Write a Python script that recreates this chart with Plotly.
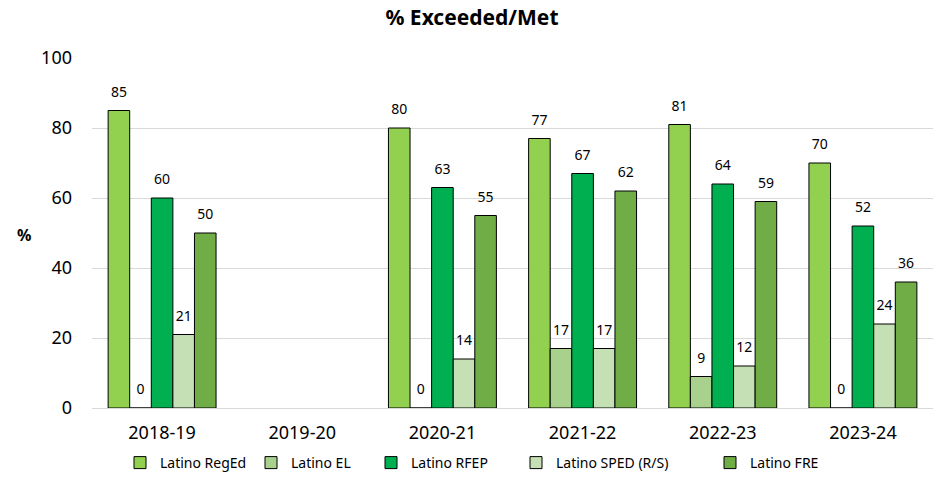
import plotly.graph_objects as go

years = ["2018-19", "2019-20", "2020-21", "2021-22", "2022-23", "2023-24"]
series_names = ["Latino RegEd", "Latino EL", "Latino RFEP", "Latino SPED (R/S)", "Latino FRE"]
reged = [85, None, 80, 77, 81, 70]
el = [0, None, 0, 17, 9, 0]
rfep = [60, None, 63, 67, 64, 52]
sped = [21, None, 14, 17, 12, 24]
fre = [50, None, 55, 62, 59, 36]
colors = ["#92D050", "#A9D18E", "#00B050", "#C5E0B4", "#70AD47"]
legend_widths = [86, 75, 100, 149, 80]

font_family = "Noto Sans, Open Sans, Liberation Sans, sans-serif"
all_series = [reged, el, rfep, sped, fre]

fig = go.Figure()
for i, (name, vals, col) in enumerate(zip(series_names, all_series, colors)):
    fig.add_trace(go.Bar(
        name=name, x=years, y=vals,
        marker=dict(color=col, line=dict(color="#000000", width=1)),
        offsetgroup=str(i), legendwidth=legend_widths[i],
    ))
# data labels, placed with the same grouping as the bars
for i, (name, vals) in enumerate(zip(series_names, all_series)):
    fig.add_trace(go.Scatter(
        x=years, y=vals, mode="markers+text", offsetgroup=str(i),
        text=[("" if v is None else str(v)) for v in vals],
        textposition="top center",
        textfont=dict(size=14, color="#000000", family=font_family),
        marker=dict(size=15, color="rgba(0,0,0,0)"),
        showlegend=False, hoverinfo="skip", cliponaxis=False,
    ))

fig.update_layout(
    width=940, height=491,
    barmode="group", bargap=0.23, bargroupgap=0,
    scattermode="group", scattergap=0.23,
    plot_bgcolor="white", paper_bgcolor="white",
    margin=dict(l=92, r=7, t=58, b=83, autoexpand=False),
    font=dict(family=font_family, color="#000000"),
    title=dict(text="<b>% Exceeded/Met</b>", x=472 / 940, xref="container", xanchor="center",
               y=1 - 18 / 491, yref="container", yanchor="middle",
               font=dict(size=21, color="#000000")),
    xaxis=dict(showline=False, ticks="", tickfont=dict(size=18), automargin=False,
               ticklabelstandoff=12),
    yaxis=dict(range=[0, 100], dtick=20, showgrid=True, gridcolor="#D9D9D9",
               gridwidth=1, zeroline=True, zerolinecolor="#D9D9D9", zerolinewidth=1,
               showline=False, ticks="", tickfont=dict(size=18), ticklabelstandoff=19,
               automargin=False),
    legend=dict(orientation="h", x=(120 - 92) / 841, xanchor="left",
                y=(408 - 463) / 350, yanchor="middle",
                font=dict(size=14), traceorder="normal"),
)
fig.add_annotation(text="<b>%</b>", x=(24 - 92) / 841, xref="paper", xanchor="center",
                   y=(408 - 235) / 350, yref="paper", yanchor="middle",
                   showarrow=False, font=dict(size=16))

fig.write_html("out.html", config={"displayModeBar": False},
               post_script="document.body.style.margin='0';document.body.style.overflow='hidden';")
